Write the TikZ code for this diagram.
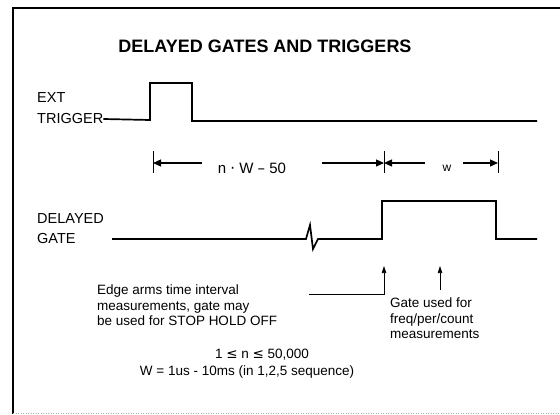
\documentclass[tikz,border=0pt]{standalone}
\usepackage{fontspec}
\setmainfont{Liberation Sans}
\newfontfamily\symfont{DejaVu Sans}
\usetikzlibrary{arrows.meta}
\begin{document}
\begin{tikzpicture}[x=1pt,y=-1pt,
  wave/.style={line width=1.7pt, line join=miter},
  dim/.style={line width=1.1pt},
  dimtip/.style={-{Triangle[length=8pt,width=7pt]}},
  tick/.style={line width=1pt},
  lbl/.style={font=\fontsize{14.5}{16}\selectfont, anchor=west, inner sep=0pt, align=left},
  body/.style={font=\fontsize{13.5}{15.5}\selectfont, inner sep=0pt, align=left},
  ptr/.style={line width=0.6pt, -{Triangle[length=7pt,width=4.5pt]}}]
\useasboundingbox (0,0) rectangle (560,415);
% frame
\draw[line width=2pt] (13,414) -- (13,8) -- (560,8);
\draw[gray!60, line width=0.5pt, dotted] (13,413) -- (560,413);
% title
\node[font=\bfseries\fontsize{18}{21}\selectfont, inner sep=0pt] (title) at (265,46) {DELAYED GATES AND TRIGGERS};
% labels
\node[lbl] (ext) at (37,98) {EXT};
\node[lbl] (trig) at (37,119) {TRIGGER};
\node[lbl] (dly) at (37,219) {DELAYED};
\node[lbl] (gate) at (37,239) {GATE};
% trigger waveform
\coordinate (t1) at (150,120);
\coordinate (t2) at (150,83);
\coordinate (t3) at (192,83);
\coordinate (t4) at (192,121);
\coordinate (t5) at (537,121);
\draw[wave] (trig.east) -- (t1) -- (t2) -- (t3) -- (t4) -- (t5);
% delayed gate waveform
\coordinate (g0) at (112,239);
\coordinate (g1) at (306,239);
\coordinate (g2) at (318,239);
\coordinate (g3) at (382,239);
\coordinate (g4) at (382,201);
\coordinate (g5) at (496,201);
\coordinate (g6) at (496,239);
\coordinate (g7) at (537,239);
\draw[wave] (g0) -- (g1) -- (310,225) -- (313,249) -- (g2) -- (g3) -- (g4) -- (g5) -- (g6) -- (g7);
% dimension ticks
\coordinate (k1a) at (153,151); \coordinate (k1b) at (153,173);
\coordinate (k2a) at (384,151); \coordinate (k2b) at (384,173);
\coordinate (k3a) at (498,151); \coordinate (k3b) at (498,173);
\draw[tick] (k1a) -- (k1b);
\draw[tick] (k2a) -- (k2b);
\draw[tick] (k3a) -- (k3b);
\node[font=\fontsize{15}{17}\selectfont, inner sep=0pt] (nw) at (252,168) {n {\symfont·} W {\symfont–} 50};
\node[font=\fontsize{12}{14}\selectfont, inner sep=0pt] (w) at (447,168) {w};
\coordinate (d1) at (202,163);
\coordinate (d2) at (322,163);
\coordinate (d3) at (425,163);
\coordinate (d4) at (463,163);
\draw[dim,dimtip] (d1) -- (k1a |- d1);
\draw[dim,dimtip] (d2) -- (k2a |- d2);
\draw[dim,dimtip] (d3) -- (k2a |- d3);
\draw[dim,dimtip] (d4) -- (k3a |- d4);
% notes
\node[body, anchor=north west] (edge) at (97,285) {Edge arms time interval\\measurements, gate may\\be used for STOP HOLD OFF};
\node[body, anchor=north west] (gu) at (390,298) {Gate used for\\freq/per/count\\measurements};
\coordinate (e1) at (309,294);
\coordinate (e2) at (384,294);
\coordinate (a1) at (384,266);
\draw[ptr] (e1) -- (e2) -- (a1);
\coordinate (a2b) at (440,290);
\coordinate (a2) at (440,266);
\draw[ptr] (a2b) -- (a2);
\node[body, anchor=center] (r1) at (262,355) {1 {\symfont≤} n {\symfont≤} 50,000};
\node[body, anchor=center] (r2) at (247,372) {W = 1us - 10ms (in 1,2,5 sequence)};
\end{tikzpicture}
\end{document}
